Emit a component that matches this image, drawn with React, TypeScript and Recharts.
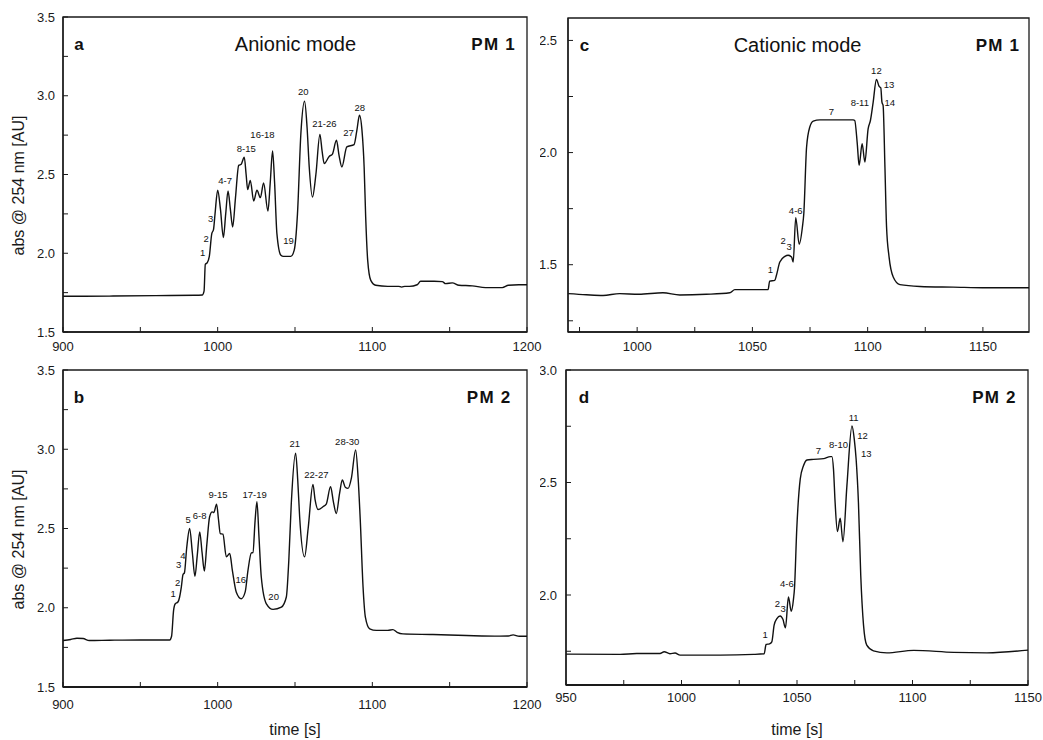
import React from "react";
import { LineChart, Line, XAxis, YAxis, ReferenceDot, ReferenceArea } from "recharts";

// a: anionic mode, PM 1
const timeA = [
  900, 930, 960, 985, 990, 991.2, 992, 993.3, 994.6, 996.2, 997.3, 998.3, 1000, 1001.8, 1003.7,
  1005.2, 1006.7, 1008.2, 1009.7, 1011.5, 1013.6, 1015.2, 1017.2, 1018.4, 1019.4, 1021.1, 1023.3,
  1025.4, 1027.6, 1029.7, 1032.5, 1034, 1035.5, 1036.8, 1038.3, 1040.9, 1042.5, 1047.3, 1049.5,
  1051.6, 1053.8, 1056.2, 1057.8, 1059.2, 1061.3, 1063.5, 1066.1, 1067.5, 1068.9, 1072.1, 1074.2,
  1076.8, 1078.5, 1080.3, 1083.5, 1088.2, 1090, 1091.7, 1093.3, 1094.7, 1095.7, 1097, 1099, 1102.2,
  1110, 1117, 1119, 1121, 1124, 1129, 1131.2, 1140, 1145.2, 1147.4, 1151.7, 1156, 1164.6, 1173.2,
  1184, 1188, 1194.7, 1200,
];
const absA = [
  1.727, 1.728, 1.731, 1.733, 1.735, 1.76, 1.93, 1.94, 1.98, 2.125, 2.15, 2.25, 2.4, 2.28, 2.1,
  2.25, 2.395, 2.28, 2.167, 2.35, 2.558, 2.565, 2.61, 2.5, 2.404, 2.463, 2.332,
  2.4, 2.353, 2.446, 2.268, 2.45, 2.649, 2.45, 2.125, 1.987, 1.98, 1.98, 2.02,
  2.25, 2.76, 2.965, 2.8, 2.548, 2.357, 2.5, 2.755, 2.65, 2.569, 2.615, 2.63,
  2.717, 2.62, 2.548, 2.675, 2.69, 2.78, 2.876, 2.78, 2.548, 2.23, 1.955, 1.828, 1.797,
  1.79, 1.79, 1.785, 1.79, 1.79, 1.8, 1.822, 1.822, 1.82, 1.807, 1.812, 1.797, 1.793, 1.782,
  1.782, 1.797, 1.8, 1.8,
];

// b: anionic mode, PM 2
const timeB = [
  900, 905, 909, 913, 917, 930, 950, 969, 970.2, 971.5, 972.6, 974.3, 975.4, 976.5, 977.6, 978.5,
  980, 981.9, 983.6, 985.3, 986.8, 988.4, 989.9, 991.4, 993, 994.8, 996.5, 997.5, 999.3, 1000.5,
  1001.7, 1003.4, 1005.6, 1007.8, 1009.5, 1012, 1015.3, 1017.8, 1019.6, 1021.8, 1022.8, 1024.2,
  1025.4, 1026.7, 1028.2, 1031.5, 1035.8, 1041.2, 1044.4, 1046, 1047.6, 1050.4, 1051.8, 1053,
  1056.2, 1058.5, 1061.6, 1063, 1064.9, 1068.1, 1070.2, 1073, 1074.8, 1076.7, 1078.8, 1080.6,
  1082.5, 1084.3, 1086.5, 1089.2, 1090.8, 1092.2, 1094, 1095.5, 1098.3, 1102.6, 1110, 1113.3,
  1116, 1119.8, 1139.2, 1160.8, 1182.3, 1188, 1191, 1195, 1200,
];
const absB = [
  1.793, 1.8, 1.808, 1.806, 1.793, 1.795, 1.797, 1.797, 1.82, 1.983, 2.025, 2.036, 2.068, 2.13, 2.21, 2.22,
  2.38, 2.5, 2.35, 2.198, 2.33, 2.479, 2.35, 2.232, 2.4, 2.574, 2.605, 2.6, 2.654, 2.56,
  2.468, 2.464, 2.321, 2.342, 2.236, 2.1, 2.057, 2.1, 2.236, 2.346, 2.348, 2.55,
  2.669, 2.45, 2.194, 2.025, 1.99, 2.004, 2.068, 2.3, 2.658, 2.975, 2.8, 2.574,
  2.321, 2.5, 2.778, 2.68, 2.62, 2.637, 2.654, 2.764, 2.67, 2.595, 2.72, 2.806,
  2.76, 2.753, 2.82, 2.996, 2.82, 2.553, 2.131, 1.941, 1.867, 1.857, 1.857, 1.862,
  1.845, 1.835, 1.831, 1.825, 1.821, 1.822, 1.829, 1.82, 1.82,
];

// c: cationic mode, PM 1
const timeC = [
  970, 978, 985.2, 992.4, 1000.7, 1011.2, 1018.5, 1030, 1040.2, 1042.4, 1050.3, 1056.8, 1057.5,
  1059.7, 1060.4, 1061.9, 1064.1, 1065.5, 1067, 1067.7, 1068.8, 1070.3, 1071.7, 1072.3, 1073.5,
  1074.9, 1076.4, 1079.3, 1093.7, 1094.4, 1095.5, 1096.3, 1097.6, 1098.8, 1100.2, 1101.2, 1102.4,
  1103.8, 1105, 1105.7, 1106.2, 1106.7, 1107.5, 1108.2, 1109.3, 1111.1, 1114, 1122.7, 1137.1,
  1151.6, 1170,
];
const absC = [
  1.371, 1.366, 1.363, 1.371, 1.368, 1.375, 1.365, 1.368, 1.375, 1.389, 1.389, 1.389, 1.427,
  1.43, 1.452, 1.512, 1.537, 1.542, 1.534, 1.512, 1.71, 1.591, 1.668, 1.727, 2.024,
  2.114, 2.14, 2.146, 2.146, 2.143, 2.039, 1.943, 2.039, 1.958, 2.106, 2.143, 2.225,
  2.326, 2.295, 2.289, 2.225, 2.21, 1.935, 1.668, 1.534, 1.445, 1.411, 1.403, 1.4,
  1.397, 1.397,
];

// d: cationic mode, PM 2
const timeD = [
  950, 973.4, 980.6, 990.7, 992.5, 995, 997.2, 999.4, 1016.7, 1031.2, 1035.8, 1036.6, 1038.1,
  1039.1, 1040.1, 1041.3, 1042.7, 1043.9, 1045, 1046.3, 1047.5, 1048.5, 1048.9, 1049.9, 1051.4,
  1052.8, 1054.3, 1057.1, 1061.5, 1064.4, 1065.1, 1065.8, 1066.5, 1067.5, 1068.7, 1069.9, 1071.6,
  1073.8, 1074.8, 1075.6, 1076.6, 1077.6, 1078.8, 1080.2, 1083.1, 1088.9, 1100.5, 1117.8, 1132.2,
  1150,
];
const absD = [
  1.737, 1.736, 1.74, 1.74, 1.748, 1.739, 1.742, 1.733, 1.733, 1.736, 1.739, 1.78, 1.783,
  1.792, 1.866, 1.895, 1.907, 1.892, 1.854, 1.991, 1.928, 1.984, 2.028, 2.294, 2.515,
  2.574, 2.6, 2.603, 2.606, 2.615, 2.615, 2.559, 2.411, 2.282, 2.341, 2.237, 2.485,
  2.751, 2.692, 2.603, 2.41, 2.087, 1.866, 1.777, 1.752, 1.743, 1.754, 1.745, 1.743,
  1.755,
];

// axis ticks (minor ticks get no label)
const xTicksAB = [900, 950, 1000, 1050, 1100, 1150, 1200];
const yTicksAB = [1.5, 1.75, 2, 2.25, 2.5, 2.75, 3, 3.25, 3.5];
const xTicksC = [975, 1000, 1025, 1050, 1075, 1100, 1125, 1150];
const yTicksC = [1.25, 1.5, 1.75, 2, 2.25, 2.5];
const xTicksD = [950, 975, 1000, 1025, 1050, 1075, 1100, 1125, 1150];
const yTicksD = [1.75, 2, 2.25, 2.5, 2.75, 3];

// peak labels: [time, abs, text]
type Tag = [number, number, string];
const peaksA: Tag[] = [
  [990.3, 2.004, "1"], [992.5, 2.093, "2"], [995.5, 2.22, "3"], [1004.8, 2.463, "4-7"],
  [1018.5, 2.664, "8-15"], [1029, 2.753, "16-18"], [1045.8, 2.082, "19"], [1055.3, 3.03, "20"],
  [1069, 2.823, "21-26"], [1084.6, 2.764, "27"], [1091.9, 2.924, "28"],
];
const peaksB: Tag[] = [
  [971.2, 2.09, "1"], [974.1, 2.16, "2"], [974.8, 2.276, "3"], [977.6, 2.33, "4"],
  [980.9, 2.556, "5"], [988.3, 2.582, "6-8"], [1000.2, 2.717, "9-15"], [1014.9, 2.179, "16"],
  [1023.9, 2.717, "17-19"], [1036.2, 2.068, "20"], [1049.8, 3.038, "21"], [1063.8, 2.842, "22-27"],
  [1083.8, 3.049, "28-30"],
];
const peaksC: Tag[] = [
  [1057.8, 1.478, "1"], [1063.3, 1.608, "2"], [1065.9, 1.579, "3"], [1068.8, 1.742, "4-6"],
  [1084.3, 2.183, "7"], [1096.6, 2.225, "8-11"], [1103.8, 2.366, "12"], [1109.3, 2.304, "13"],
  [1109.6, 2.225, "14"],
];
const peaksD: Tag[] = [
  [1036.2, 1.826, "1"], [1041.5, 1.962, "2"], [1044, 1.94, "3"], [1045.6, 2.053, "4-6"],
  [1059.3, 2.643, "7"], [1068, 2.67, "8-10"], [1074.5, 2.79, "11"], [1078.4, 2.709, "12"],
  [1080, 2.63, "13"],
];

// panel headings: letter, mode title, sample
const headA: Tag[] = [[910.3, 3.327, "a"], [1050.3, 3.327, "Anionic mode"], [1178.4, 3.327, "PM 1"]];
const headB: Tag[] = [[910.3, 3.325, "b"], [1175.5, 3.325, "PM 2"]];
const headC: Tag[] = [[977.2, 2.478, "c"], [1069.6, 2.478, "Cationic mode"], [1156.5, 2.478, "PM 1"]];
const headD: Tag[] = [[957.8, 2.877, "d"], [1135.5, 2.877, "PM 2"]];

const INK = "#1a1a1a";

const isMajor = (v: number, step: number) => Math.abs(v / step - Math.round(v / step)) < 1e-6;

const yLabel = {
  content: (p: any) => {
    const vb = p.viewBox || { x: 0, y: 17, width: 63, height: 315 };
    const x = vb.x + 18.5;
    const y = vb.y + vb.height / 2 + 11;
    return (
      <text x={x} y={y} transform={`rotate(-90, ${x}, ${y})`} textAnchor="middle"
        dominantBaseline="central" fontSize={16} fill={INK}>
        abs @ 254 nm [AU]
      </text>
    );
  },
};

function Panel(props: any) {
  const {
    box, margin, yWidth, xHeight, times, abs, xDomain, yDomain, xTicks, yTicks, xStep,
    peaks, heads, showYLabel, showXLabel, xGap, yGap, thick,
  } = props;
  const data = times.map((t: number, i: number) => ({ t, v: abs[i] }));
  return (
    <div style={{ position: "absolute", left: box[0], top: box[1] }}>
      <LineChart width={box[2]} height={box[3]} data={data} margin={margin}>
        <XAxis
          dataKey="t" type="number" domain={xDomain} ticks={xTicks} allowDataOverflow interval={0}
          tickFormatter={(x: number) => (isMajor(x, xStep) ? String(x) : "")}
          tickSize={-5} tickMargin={xGap} height={xHeight}
          axisLine={{ stroke: INK, strokeWidth: thick ? 2 : 1.3 }}
          tickLine={{ stroke: INK, strokeWidth: 1 }}
          tick={{ fill: INK, fontSize: 13 }}
          label={showXLabel ? { value: "time [s]", position: "insideBottom", offset: 5, fill: INK, fontSize: 16 } : undefined}
        />
        <YAxis
          type="number" domain={yDomain} ticks={yTicks} allowDataOverflow interval={0} width={yWidth}
          tickFormatter={(v: number) => (isMajor(v, 0.5) ? v.toFixed(1) : "")}
          tickSize={-5} tickMargin={yGap}
          axisLine={{ stroke: INK, strokeWidth: 1.3 }}
          tickLine={{ stroke: INK, strokeWidth: 1 }}
          tick={{ fill: INK, fontSize: 13 }}
          label={showYLabel ? yLabel : undefined}
        />
        <ReferenceArea x1={xDomain[0]} x2={xDomain[1]} y1={yDomain[0]} y2={yDomain[1]}
          fill="none" fillOpacity={0} stroke={INK} strokeWidth={1.3} ifOverflow="visible" />
        <Line type="monotone" dataKey="v" stroke="#111" strokeWidth={1.4} dot={false}
          isAnimationActive={false} />
        {peaks.map(([t, v, s]: Tag, i: number) => (
          <ReferenceDot key={"p" + i} x={t} y={v} r={0} ifOverflow="visible"
            shape={(p: any) => (
              <text x={p.cx} y={p.cy} textAnchor="middle" dominantBaseline="central"
                fontSize={9.5} fill="#111">{s}</text>
            )} />
        ))}
        {heads.map(([t, v, s]: Tag, i: number) => (
          <ReferenceDot key={"h" + i} x={t} y={v} r={0} ifOverflow="visible"
            shape={(p: any) => (
              <text x={p.cx} y={p.cy} textAnchor="middle" dominantBaseline="central"
                fontSize={s.length > 4 ? 20 : 17} fontWeight={s.length > 4 ? 400 : 700}
                letterSpacing={s.startsWith("PM") ? 1.2 : 0} fill="#111">{s}</text>
            )} />
        ))}
      </LineChart>
    </div>
  );
}

export default function App() {
  return (
    <div style={{ position: "absolute", left: 0, top: 0, width: 1043, height: 740, background: "#fff",
      fontFamily: "'Liberation Sans', Arial, sans-serif" }}>
      <Panel box={[0, 0, 545, 370]} margin={{ top: 17, right: 18, bottom: 0, left: 0 }}
        yWidth={63} xHeight={38} times={timeA} abs={absA} xDomain={[900, 1200]} yDomain={[1.5, 3.5]}
        xTicks={xTicksAB} yTicks={yTicksAB} xStep={100} peaks={peaksA} heads={headA} showYLabel
        xGap={15} yGap={13} />
      <Panel box={[0, 355, 545, 385]} margin={{ top: 15, right: 18, bottom: 0, left: 0 }}
        yWidth={63} xHeight={53} times={timeB} abs={absB} xDomain={[900, 1200]} yDomain={[1.5, 3.5]}
        xTicks={xTicksAB} yTicks={yTicksAB} xStep={100} peaks={peaksB} heads={headB} showYLabel
        showXLabel xGap={18} yGap={13} thick />
      <Panel box={[540, 0, 503, 370]} margin={{ top: 18, right: 14, bottom: 0, left: 0 }}
        yWidth={28} xHeight={38} times={timeC} abs={absC} xDomain={[970, 1170]} yDomain={[1.2, 2.6]}
        xTicks={xTicksC} yTicks={yTicksC} xStep={50} peaks={peaksC} heads={headC} xGap={15} yGap={16} />
      <Panel box={[540, 355, 503, 385]} margin={{ top: 15, right: 15, bottom: 0, left: 0 }}
        yWidth={26} xHeight={55} times={timeD} abs={absD} xDomain={[950, 1150]} yDomain={[1.6, 3.0]}
        xTicks={xTicksD} yTicks={yTicksD} xStep={50} peaks={peaksD} heads={headD} showXLabel
        xGap={13} yGap={14} thick />
    </div>
  );
}
